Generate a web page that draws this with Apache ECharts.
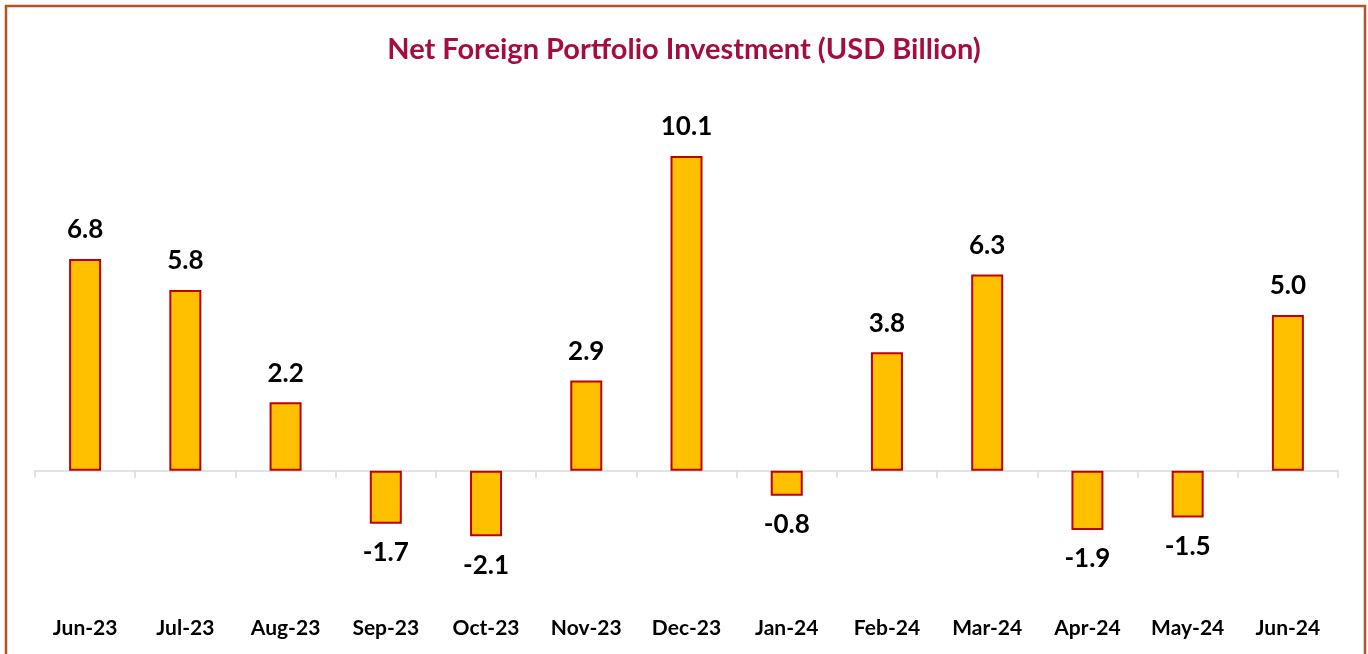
<!DOCTYPE html>
<html>
<head>
<meta charset="utf-8">
<script src="https://cdn.jsdelivr.net/npm/echarts@6/dist/echarts.min.js"></script>
<style>
  html, body { margin: 0; padding: 0; background: #fff; }
  #chart { width: 1368px; height: 654px; }
</style>
</head>
<body>
<div id="chart"></div>
<script>
// data
const months = ['Jun-23', 'Jul-23', 'Aug-23', 'Sep-23', 'Oct-23', 'Nov-23', 'Dec-23',
  'Jan-24', 'Feb-24', 'Mar-24', 'Apr-24', 'May-24', 'Jun-24'];
const netFpi = [6.8, 5.8, 2.2, -1.7, -2.1, 2.9, 10.1, -0.8, 3.8, 6.3, -1.9, -1.5, 5.0];

const fontFam = 'Lato, "Open Sans", sans-serif';
let myChart = echarts.init(document.getElementById('chart'));

let option = {
  animation: false,
  backgroundColor: '#fff',
  title: {
    text: 'Net Foreign Portfolio Investment (USD Billion)',
    left: 'center',
    top: 30,
    textStyle: {
      color: '#A50D41',
      fontSize: 29,
      fontWeight: 'bold',
      fontFamily: fontFam
    }
  },
  graphic: [{
    type: 'rect',
    shape: { x: 6, y: 6, width: 1359, height: 680 },
    style: { fill: 'none', stroke: '#B85220', lineWidth: 2.5 },
    silent: true
  }],
  grid: {
    left: 35,
    right: 30,
    top: 128,
    bottom: 43
  },
  tooltip: { show: false },
  yAxis: {
    type: 'value',
    min: -4.5,
    max: 11,
    show: false,
    splitLine: { show: false }
  },
  xAxis: [{
    // zero line with category ticks
    type: 'category',
    data: months,
    axisLine: { show: true, onZero: true, lineStyle: { color: '#D9D9D9', width: 1.5 } },
    axisTick: { show: true, length: 7, inside: false, lineStyle: { color: '#D9D9D9', width: 1.5 } },
    axisLabel: { show: false }
  }, {
    // month labels at the bottom
    type: 'category',
    data: months,
    position: 'bottom',
    axisLine: { show: false, onZero: false },
    axisTick: { show: false },
    axisLabel: {
      show: true,
      margin: 7,
      color: '#000',
      fontSize: 21,
      fontWeight: 'bold',
      fontFamily: fontFam
    }
  }],
  series: [{
    name: 'Net FPI',
    type: 'bar',
    xAxisIndex: 0,
    barWidth: 32,
    data: netFpi.map(v => ({
      value: v,
      label: { position: v < 0 ? 'bottom' : 'top' }
    })),
    itemStyle: {
      color: '#FFC000',
      borderColor: '#C00000',
      borderWidth: 2
    },
    label: {
      show: true,
      distance: 16,
      color: '#000',
      fontSize: 26,
      fontWeight: 'bold',
      fontFamily: fontFam,
      formatter: p => p.value.toFixed(1)
    }
  }]
};

myChart.setOption(option);
window.addEventListener('resize', () => {
  myChart.resize();
});
</script>
</body>
</html>
